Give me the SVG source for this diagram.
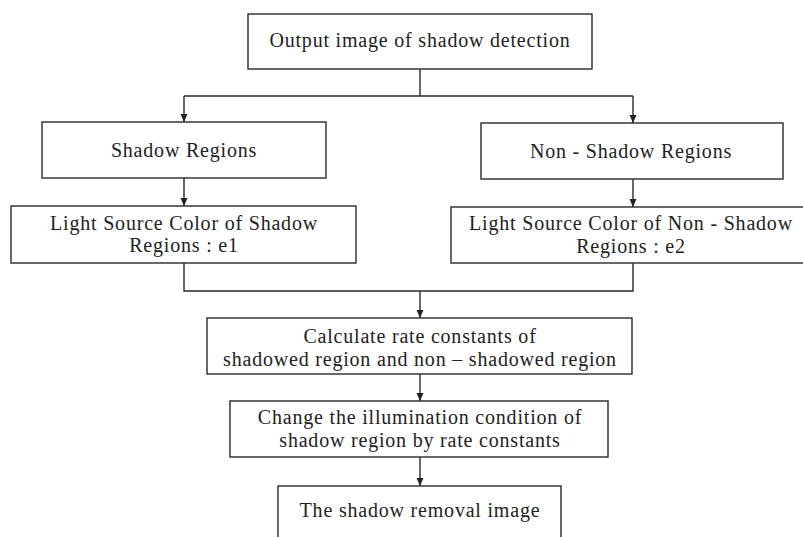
<svg xmlns="http://www.w3.org/2000/svg" width="803" height="537" viewBox="0 0 803 537">
<style>
.box{fill:#fff;stroke:#2a2a2a;stroke-width:1.4}
.t{font-family:"Liberation Serif","Times New Roman",serif;font-size:20px;fill:#222;text-anchor:middle;letter-spacing:0.8px}
.c{fill:none;stroke:#2a2a2a;stroke-width:1.4}
</style>
<defs>
<marker id="ah" viewBox="0 0 8 10" refX="8" refY="5" markerWidth="8" markerHeight="10" markerUnits="userSpaceOnUse" orient="auto">
<path d="M0,1.5 L8,5 L0,8.5 Z" fill="#222"/>
</marker>
</defs>
<rect width="803" height="537" fill="#fff"/>
<g id="connectors">
<path class="c" d="M420,69 V96 M184,96 H633"/>
<path class="c" d="M184,96 V122" marker-end="url(#ah)"/>
<path class="c" d="M633,96 V123" marker-end="url(#ah)"/>
<path class="c" d="M184,178 V206" marker-end="url(#ah)"/>
<path class="c" d="M633,179 V207" marker-end="url(#ah)"/>
<path class="c" d="M184,263 V291 H633 V263"/>
<path class="c" d="M420,291 V318" marker-end="url(#ah)"/>
<path class="c" d="M420,374 V401" marker-end="url(#ah)"/>
<path class="c" d="M420,457 V486" marker-end="url(#ah)"/>
</g>
<g id="n_output">
<rect class="box" x="248" y="14" width="344" height="55"/>
<text class="t" x="420" y="47">Output image of shadow detection</text>
</g>
<g id="n_shadow">
<rect class="box" x="42" y="122" width="284" height="56"/>
<text class="t" x="184" y="157">Shadow Regions</text>
</g>
<g id="n_nonshadow">
<rect class="box" x="481" y="123" width="302" height="56"/>
<text class="t" x="631" y="158">Non - Shadow Regions</text>
</g>
<g id="n_light_shadow">
<rect class="box" x="11" y="206" width="345" height="57"/>
<text class="t" x="184" y="229.5">Light Source Color of Shadow</text>
<text class="t" x="184" y="252">Regions : e1</text>
</g>
<g id="n_light_nonshadow">
<rect class="box" x="451" y="207" width="362" height="56"/>
<text class="t" x="631" y="230">Light Source Color of Non - Shadow</text>
<text class="t" x="631" y="252.5">Regions : e2</text>
</g>
<g id="n_calc">
<rect class="box" x="207" y="318" width="425" height="56"/>
<text class="t" x="420" y="343">Calculate rate constants of</text>
<text class="t" x="420" y="365.5">shadowed region and non – shadowed region</text>
</g>
<g id="n_change">
<rect class="box" x="230" y="401" width="378" height="56"/>
<text class="t" x="420" y="424">Change the illumination condition of</text>
<text class="t" x="420" y="446.5">shadow region by rate constants</text>
</g>
<g id="n_final">
<rect class="box" x="278" y="486" width="283" height="60"/>
<text class="t" x="420" y="517">The shadow removal image</text>
</g>
</svg>
